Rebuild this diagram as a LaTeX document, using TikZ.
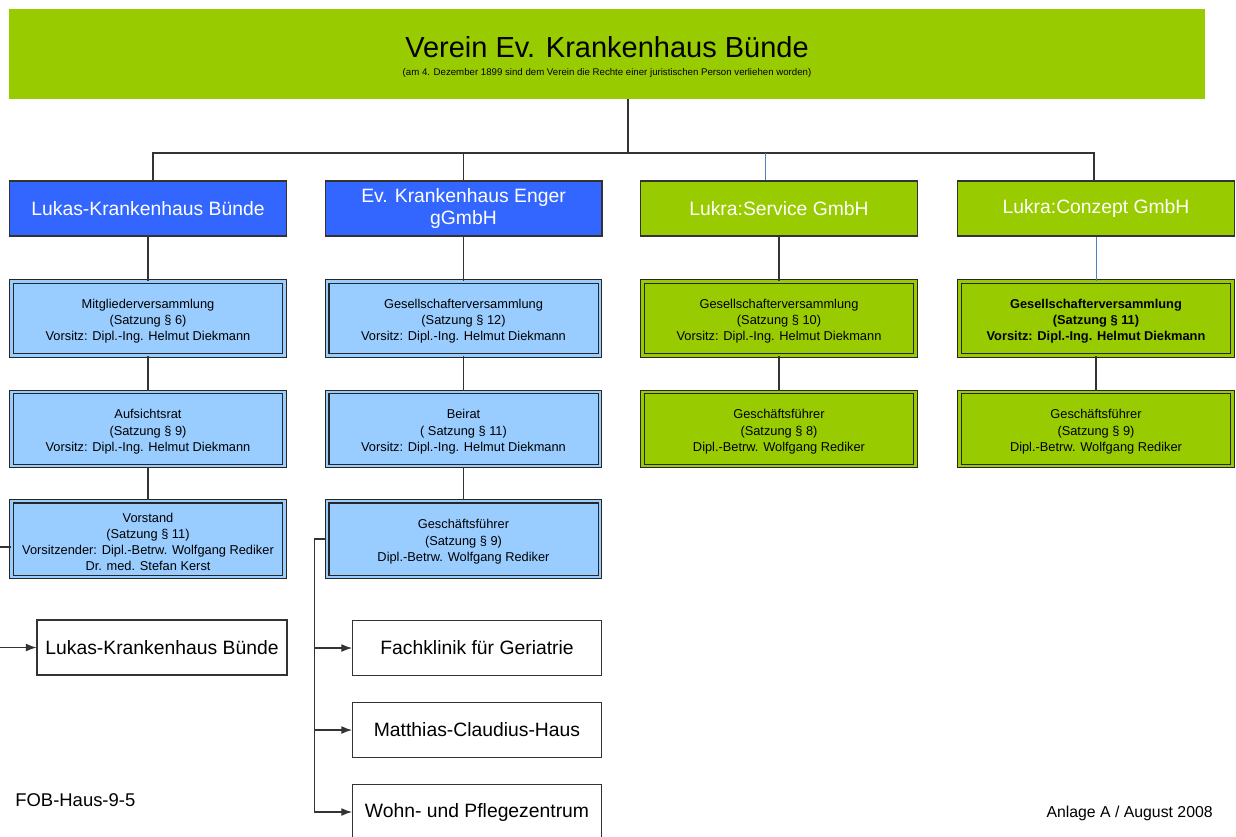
\documentclass[tikz,border=0pt]{standalone}
\usepackage{fontspec}
\setmainfont{Liberation Sans}
\usetikzlibrary{arrows.meta,calc}

\definecolor{vgreen}{HTML}{99CC00}
\definecolor{hblue}{HTML}{3366FF}
\definecolor{lblue}{HTML}{99CCFF}
\definecolor{lineblue}{HTML}{4F81BD}
\newcommand{\orgtop}{\rule{0pt}{8.4pt}}

\begin{document}
\begin{tikzpicture}[>={Latex[length=6pt,width=4.4pt]}, x=0.02cm, y=-0.02cm, inner sep=0pt,
	head/.style={rectangle, draw=black!80, line width=0.6pt, fill=#1, minimum width=5.54cm, minimum height=1.1cm, text=white, align=center, font=\fontsize{11}{13}\selectfont},
	organ/.style={rectangle, draw=black!85, line width=0.7pt, double=#1, double distance=0.05cm, fill=#1, minimum width=5.46cm, minimum height=1.48cm, align=center, font=\fontsize{7.3}{9.2}\selectfont},
	house/.style={rectangle, draw=black!80, line width=0.6pt, fill=white, minimum width=4.98cm, minimum height=1.1cm, font=\fontsize{11}{13}\selectfont},
	conn/.style={line width=0.6pt, black!80}]
			\useasboundingbox (0,0) rectangle (1236,836);
			
			% Verein
			\node[rectangle, fill=vgreen, minimum width=23.92cm, minimum height=1.8cm, align=center](verein) at (607,54) {{\fontsize{16.5}{18}\selectfont\rule{0pt}{15.5pt}Verein Ev. Krankenhaus B\"unde}\\[-2pt]{\fontsize{5.5}{7}\selectfont (am 4. Dezember 1899 sind dem Verein die Rechte einer juristischen Person verliehen worden)}};
			
			% Traeger
			\node[head=hblue](lukas) at (148,208.5) {Lukas-Krankenhaus B\"unde};
			\node[head=hblue](enger) at (463.5,208.5) {Ev. Krankenhaus Enger\\gGmbH};
			\node[head=vgreen](service) at (779,208.5) {Lukra:Service GmbH};
			\node[head=vgreen](conzept) at (1096,208.5) {Lukra:Conzept GmbH};
			
			% Organe
			\node[organ=lblue](mvL) at (148,318.5) {\orgtop Mitgliederversammlung\\(Satzung \S\ 6)\\Vorsitz: Dipl.-Ing. Helmut Diekmann};
			\node[organ=lblue](arL) at (148,429) {\orgtop Aufsichtsrat\\(Satzung \S\ 9)\\Vorsitz: Dipl.-Ing. Helmut Diekmann};
			\node[organ=lblue, minimum height=1.52cm](vsL) at (148,539) {\orgtop Vorstand\\(Satzung \S\ 11)\\Vorsitzender: Dipl.-Betrw. Wolfgang Rediker\\Dr. med. Stefan Kerst};
			\node[organ=lblue](gvE) at (463.5,318.5) {\orgtop Gesellschafterversammlung\\(Satzung \S\ 12)\\Vorsitz: Dipl.-Ing. Helmut Diekmann};
			\node[organ=lblue](brE) at (463.5,429) {\orgtop Beirat\\( Satzung \S\ 11)\\Vorsitz: Dipl.-Ing. Helmut Diekmann};
			\node[organ=lblue, minimum height=1.52cm](gfE) at (463.5,539) {\orgtop Gesch\"aftsf\"uhrer\\(Satzung \S\ 9)\\Dipl.-Betrw. Wolfgang Rediker};
			\node[organ=vgreen](gvS) at (779,318.5) {\orgtop Gesellschafterversammlung\\(Satzung \S\ 10)\\Vorsitz: Dipl.-Ing. Helmut Diekmann};
			\node[organ=vgreen](gfS) at (779,429) {\orgtop Gesch\"aftsf\"uhrer\\(Satzung \S\ 8)\\Dipl.-Betrw. Wolfgang Rediker};
			\node[organ=vgreen, font=\fontsize{7.3}{9.2}\selectfont\bfseries](gvC) at (1096,318.5) {\orgtop Gesellschafterversammlung\\(Satzung \S\ 11)\\Vorsitz: Dipl.-Ing. Helmut Diekmann};
			\node[organ=vgreen](gfC) at (1096,429) {\orgtop Gesch\"aftsf\"uhrer\\(Satzung \S\ 9)\\Dipl.-Betrw. Wolfgang Rediker};
			
			% Haeuser
			\node[house, minimum width=5cm](lkb) at (162,647.5) {Lukas-Krankenhaus B\"unde};
			\node[house](fach) at (477,648) {Fachklinik f\"ur Geriatrie};
			\node[house](mch) at (477,730) {Matthias-Claudius-Haus};
			\node[house](wpz) at (477,812) {Wohn- und Pflegezentrum};
			
			\node[anchor=base west, font=\fontsize{10.5}{12}\selectfont](fob) at (15,806) {FOB-Haus-9-5};
			\node[anchor=base east, font=\fontsize{9}{11}\selectfont](anlage) at (1213,817) {Anlage A / August 2008};
			
			% Verbindungen
			\coordinate (bus) at (628,153);
			\draw[conn](verein.south -| bus) -- (bus);
			\draw[conn]([xshift=0.1cm]lukas.north) |- (bus) -| ([xshift=-0.04cm]conzept.north);
			\draw[conn](enger.north) -- (enger.north |- bus);
			\draw[thin, lineblue]([xshift=-0.28cm]service.north) -- ([xshift=-0.28cm]service.north |- bus);
			
			\draw[conn](lukas) edge (mvL) (mvL) edge (arL) (arL) edge (vsL);
			\draw[conn](enger) edge (gvE) (gvE) edge (brE) (brE) edge (gfE);
			\draw[conn](service) edge (gvS) (gvS) edge (gfS);
			\draw[thin, lineblue](conzept) -- (gvC);
			\draw[conn](gvC) edge (gfC);
			
			\draw[conn]([yshift=-0.16cm]vsL.west) -- ++(-16,0) coordinate (lk);
			\draw[conn, ->](lk) |- (lkb.west);
			\draw[conn](gfE.west) -- ++(-12,0) coordinate (ek);
			\draw[conn, ->](ek) |- (fach.west);
			\draw[conn, ->](ek) |- (mch.west);
			\draw[conn, ->](ek) |- (wpz.west);
		\end{tikzpicture}
\end{document}
